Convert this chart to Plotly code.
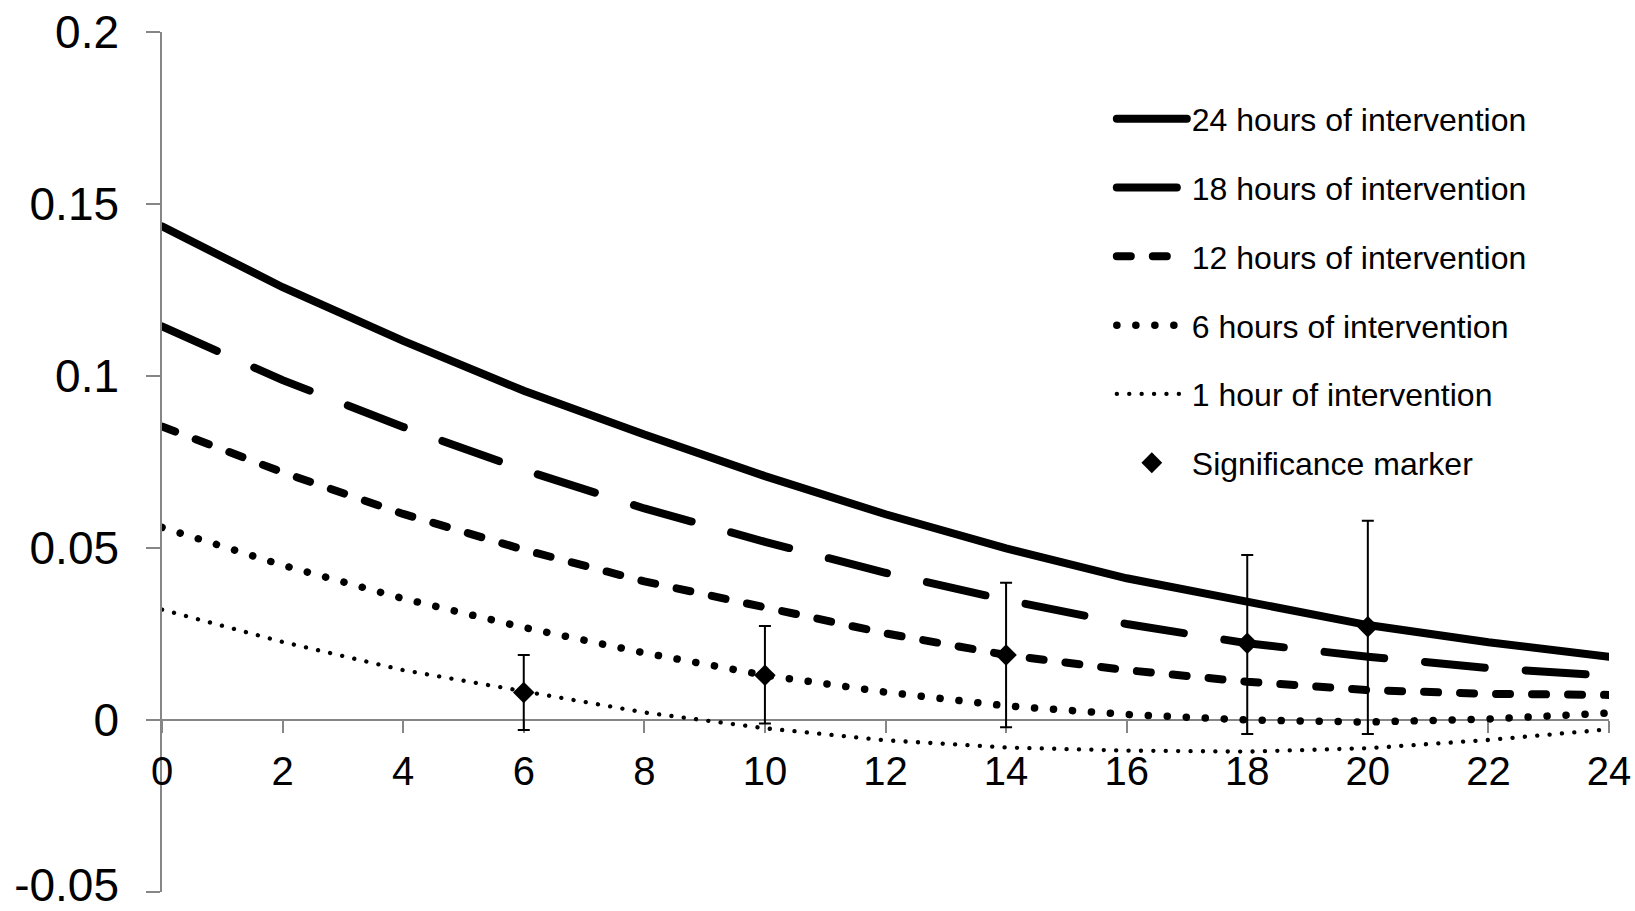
import plotly.graph_objects as go

# ---- data ----
hours = [0, 2, 4, 6, 8, 10, 12, 14, 16, 18, 20, 22, 24]
effect_24h = [0.1435, 0.1258, 0.1102, 0.0957, 0.0830, 0.0709, 0.0598, 0.0499, 0.0412, 0.0342, 0.0276, 0.0226, 0.0184]
effect_18h = [0.1144, 0.0988, 0.0852, 0.0727, 0.0615, 0.0518, 0.0428, 0.0349, 0.0279, 0.0223, 0.0184, 0.0151, 0.0129]
effect_12h = [0.0853, 0.0720, 0.0599, 0.0495, 0.0403, 0.0325, 0.0252, 0.0189, 0.0145, 0.0111, 0.0087, 0.0076, 0.0073]
effect_6h = [0.0560, 0.0450, 0.0353, 0.0269, 0.0195, 0.0130, 0.0081, 0.0041, 0.0016, 0.0000, -0.0006, 0.0003, 0.0020]
effect_1h = [0.0321, 0.0227, 0.0145, 0.0083, 0.0022, -0.0024, -0.0059, -0.0080, -0.0089, -0.0092, -0.0082, -0.0058, -0.0027]

sig_hours = [6, 10, 14, 18, 20]
sig_effect = [0.0080, 0.0130, 0.0189, 0.0223, 0.0271]
sig_upper = [0.0189, 0.0273, 0.0399, 0.0480, 0.0579]
sig_lower = [-0.0029, -0.0010, -0.0021, -0.0041, -0.0041]

series_names = ["24 hours of intervention", "18 hours of intervention", "12 hours of intervention",
                "6 hours of intervention", "1 hour of intervention"]
sig_name = "Significance marker"

x_ticks = [0, 2, 4, 6, 8, 10, 12, 14, 16, 18, 20, 22, 24]
y_ticks = [-0.05, 0, 0.05, 0.1, 0.15, 0.2]
y_tick_labels = ["-0.05", "0", "0.05", "0.1", "0.15", "0.2"]

# ---- styles ----
series_values = [effect_24h, effect_18h, effect_12h, effect_6h, effect_1h]
line_widths = [8, 8, 8, 7.5, 4.3]
line_dashes = ["solid", "60px,41px", "14px,22px", "0.1px,18.9px", "0.1px,12.3px"]

FONT = "Liberation Sans, Arial, sans-serif"
AXIS_COLOR = "#868686"

fig = go.Figure()
for i, (name, vals) in enumerate(zip(series_names, series_values)):
    fig.add_trace(go.Scatter(
        x=hours, y=vals, mode="lines", name=name, legendgroup=f"g{i}",
        line=dict(color="black", width=line_widths[i], dash=line_dashes[i]),
        hoverinfo="skip",
    ))

err_plus = [u - v for u, v in zip(sig_upper, sig_effect)]
err_minus = [v - l for v, l in zip(sig_effect, sig_lower)]
fig.add_trace(go.Scatter(
    x=sig_hours, y=sig_effect, mode="markers", name=sig_name, legendgroup="g5",
    marker=dict(symbol="diamond", size=16.5, color="black"),
    error_y=dict(type="data", symmetric=False, array=err_plus, arrayminus=err_minus,
                 color="black", thickness=2, width=6),
    hoverinfo="skip",
))

fig.update_layout(
    width=1635, height=911,
    margin=dict(l=161.6, r=26, t=32.3, b=18.5, pad=0, autoexpand=False),
    paper_bgcolor="white", plot_bgcolor="white",
    font=dict(family=FONT, color="black"),
    showlegend=True,
    legend=dict(
        x=0.6564, y=0.9309, xanchor="left", yanchor="top",
        font=dict(size=32, family=FONT, color="black"),
        bgcolor="rgba(0,0,0,0)", traceorder="grouped", tracegroupgap=24.2,
        itemwidth=70,
    ),
    xaxis=dict(
        range=[0, 24], tickmode="array", tickvals=x_ticks, ticktext=[str(t) for t in x_ticks],
        showgrid=False, zeroline=False, showline=True, linecolor=AXIS_COLOR, linewidth=1.5,
        ticks="outside", ticklen=12, tickwidth=1.5, tickcolor=AXIS_COLOR,
        tickfont=dict(size=40, family=FONT, color="black"),
        anchor="free", position=0.2, layer="below traces", ticklabelstandoff=4,
        ticklabeloverflow="allow", automargin=False,
    ),
    yaxis=dict(
        range=[-0.05, 0.2], tickmode="array", tickvals=y_ticks, ticktext=y_tick_labels,
        showgrid=False, zeroline=False, showline=True, linecolor=AXIS_COLOR, linewidth=1.5,
        ticks="outside", ticklen=14, tickwidth=1.5, tickcolor=AXIS_COLOR,
        tickfont=dict(size=46, family=FONT, color="black"),
        layer="below traces", ticklabelstandoff=18, ticklabeloverflow="allow",
        automargin=False,
    ),
)

post = """
document.body.style.margin='0';
var gd = document.getElementById('{plot_id}');
gd.querySelectorAll('path.js-line').forEach(function(p){p.style.strokeLinecap='round';});
gd.querySelectorAll('g.ytick').forEach(function(g){
  var t = g.querySelector('text');
  if (t && t.textContent.trim() === '-0.05') { g.setAttribute('transform', 'translate(0,-7)'); }
});
"""
fig.write_html("out.html", post_script=post, config={"displayModeBar": False})
